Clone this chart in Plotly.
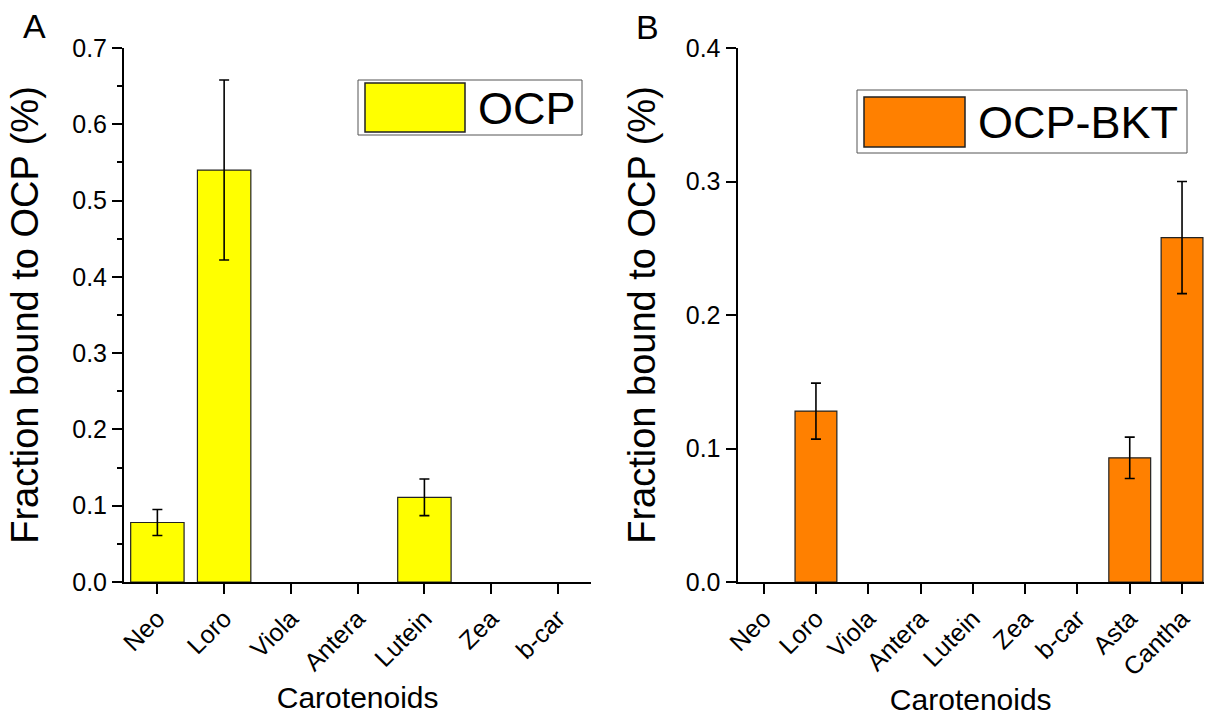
import plotly.graph_objects as go

# ---------------- data ----------------
cats_a = ["Neo", "Loro", "Viola", "Antera", "Lutein", "Zea", "b-car"]
ocp_vals = [0.078, 0.540, 0.0, 0.0, 0.111, 0.0, 0.0]
ocp_err = [0.017, 0.118, 0.0, 0.0, 0.024, 0.0, 0.0]

cats_b = ["Neo", "Loro", "Viola", "Antera", "Lutein", "Zea", "b-car", "Asta", "Cantha"]
bkt_vals = [0.0, 0.128, 0.0, 0.0, 0.0, 0.0, 0.0, 0.093, 0.258]
bkt_err = [0.0, 0.021, 0.0, 0.0, 0.0, 0.0, 0.0, 0.0155, 0.042]

y_ticks_a = [0.0, 0.1, 0.2, 0.3, 0.4, 0.5, 0.6, 0.7]
y_ticks_b = [0.0, 0.1, 0.2, 0.3, 0.4]

# ---------------- layout helpers ----------------
W, H = 1206, 716
ML, MR, MT, MB = 124, 2, 48, 134
PW, PH = W - ML - MR, H - MT - MB
FONT = "Arial, Liberation Sans, sans-serif"


def px(x):
    return (x - ML) / PW


def py(y):
    return (H - MB - y) / PH


def nonzero(cats, vals, errs):
    """Keep only the categories with a visible bar (zero bars draw nothing)."""
    keep = [i for i, v in enumerate(vals) if v > 0]
    return [cats[i] for i in keep], [vals[i] for i in keep], [errs[i] for i in keep]


YELLOW = "#FFFF00"
ORANGE = "#FF8000"

fig = go.Figure()

xa, ya, ea = nonzero(cats_a, ocp_vals, ocp_err)
fig.add_trace(go.Bar(
    x=xa, y=ya, name="OCP", xaxis="x", yaxis="y",
    width=0.8,
    marker=dict(color=YELLOW, line=dict(color="#222222", width=1.2)),
    error_y=dict(type="data", array=ea, visible=True,
                 color="black", thickness=1.6, width=5),
    showlegend=False,
))

xb, yb, eb = nonzero(cats_b, bkt_vals, bkt_err)
fig.add_trace(go.Bar(
    x=xb, y=yb, name="OCP-BKT", xaxis="x2", yaxis="y2",
    width=0.8,
    marker=dict(color=ORANGE, line=dict(color="#222222", width=1.2)),
    error_y=dict(type="data", array=eb, visible=True,
                 color="black", thickness=1.6, width=5),
    showlegend=False,
))

axis_common = dict(
    showline=True, linecolor="black", linewidth=2,
    ticks="outside", ticklen=10, tickwidth=2, tickcolor="black",
    showgrid=False, zeroline=False,
    tickfont=dict(family=FONT, size=25, color="black"),
)

xcommon = dict(axis_common, tickangle=-45,
               title=dict(text="Carotenoids", font=dict(family=FONT, size=30, color="black"), standoff=12))

fig.update_layout(
    width=W, height=H,
    margin=dict(l=ML, r=MR, t=MT, b=MB, autoexpand=False),
    paper_bgcolor="white", plot_bgcolor="white",
    font=dict(family=FONT, color="black"),
    bargap=0.2,
    xaxis=dict(xcommon, domain=[0.0, px(591.3)], range=[-0.5, 6.5], anchor="y",
               type="category", categoryorder="array", categoryarray=cats_a,
               tickvals=cats_a, ticktext=cats_a),
    yaxis=dict(axis_common, domain=[0, 1], range=[0, 0.7], tickvals=y_ticks_a,
               tickformat=".1f", anchor="x",
               minor=dict(dtick=0.05, ticks="outside", ticklen=5, tickwidth=2, tickcolor="black"),
               title=dict(text="Fraction bound to OCP (%)",
                          font=dict(family=FONT, size=38, color="black"), standoff=22)),
    xaxis2=dict(xcommon, domain=[px(737.5), 1.0], range=[-0.5, 8.42], anchor="y2",
                type="category", categoryorder="array", categoryarray=cats_b,
                tickvals=cats_b, ticktext=cats_b),
    yaxis2=dict(axis_common, domain=[0, 1], range=[0, 0.4], tickvals=y_ticks_b,
                tickformat=".1f", anchor="x2",
                title=dict(text="Fraction bound to OCP (%)",
                           font=dict(family=FONT, size=38, color="black"), standoff=18)),
)

# ---------------- custom legends ----------------
shapes = []
annotations = []


def add_legend(box, swatch, color, label, text_x, text_y):
    shapes.append(dict(type="rect", xref="paper", yref="paper",
                       x0=px(box[0]), x1=px(box[1]), y0=py(box[3]), y1=py(box[2]),
                       line=dict(color="#555555", width=1), fillcolor="white", layer="above"))
    shapes.append(dict(type="rect", xref="paper", yref="paper",
                       x0=px(swatch[0]), x1=px(swatch[1]), y0=py(swatch[3]), y1=py(swatch[2]),
                       line=dict(color="#222222", width=1.5), fillcolor=color, layer="above"))
    annotations.append(dict(text=label, xref="paper", yref="paper",
                            x=px(text_x), y=py(text_y), xanchor="left", yanchor="middle",
                            showarrow=False, font=dict(family=FONT, size=45, color="black")))


add_legend((358, 582, 80, 135), (365, 465, 83, 132), YELLOW, "OCP", 476, 108)
add_legend((857, 1187, 90, 153), (864, 965, 97, 147), ORANGE, "OCP-BKT", 976, 122)

# panel letters
annotations.append(dict(text="A", xref="paper", yref="paper", x=px(34), y=py(26),
                        xanchor="center", yanchor="middle", showarrow=False,
                        font=dict(family=FONT, size=34, color="black")))
annotations.append(dict(text="B", xref="paper", yref="paper", x=px(647), y=py(27),
                        xanchor="center", yanchor="middle", showarrow=False,
                        font=dict(family=FONT, size=34, color="black")))

fig.update_layout(shapes=shapes, annotations=annotations)

fig.write_html(
    "out.html",
    config={"displayModeBar": False},
    post_script="document.body.style.margin='0';document.body.style.overflow='hidden';",
)
